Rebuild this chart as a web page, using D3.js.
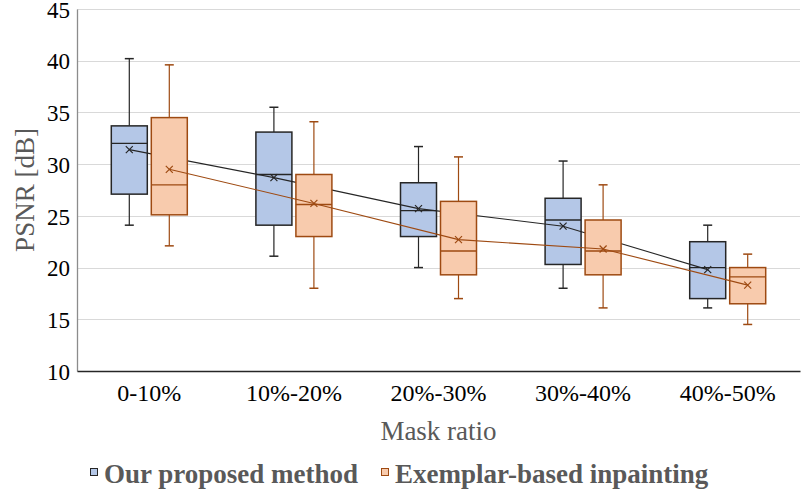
<!DOCTYPE html>
<html>
<head>
<meta charset="utf-8">
<script src="https://cdn.jsdelivr.net/npm/d3@7"></script>
<style>
    body { margin: 0; background: #fff; }
    svg { display: block; font-family: "Liberation Serif", "Times New Roman", serif; }
</style>
</head>
<body>
<div id="mainChart"></div>
<script>
// mask ratio groups
const categories = ['0-10%', '10%-20%', '20%-30%', '30%-40%', '40%-50%'];
const seriesNames = ['Our proposed method', 'Exemplar-based inpainting'];

// box stats: [whisker low, q1, median, q3, whisker high]
const proposedStats = [
    [24.1, 27.1, 32.0, 33.7, 40.2],
    [21.1, 24.1, 29.0, 33.1, 35.5],
    [20.0, 23.0, 25.5, 28.2, 31.7],
    [18.0, 20.3, 24.6, 26.7, 30.3],
    [16.1, 17.0, 20.0, 22.5, 24.1],
];
const proposedMeans = [31.4, 28.7, 25.7, 24.0, 19.8];

const exemplarStats = [
    [22.1, 25.1, 28.0, 34.5, 39.6],
    [18.0, 23.0, 26.1, 29.0, 34.1],
    [17.0, 19.3, 21.6, 26.4, 30.7],
    [16.1, 19.3, 21.6, 24.6, 28.0],
    [14.5, 16.5, 19.1, 20.0, 21.3],
];
const exemplarMeans = [29.5, 26.2, 22.7, 21.8, 18.3];

const yTicks = [10, 15, 20, 25, 30, 35, 40, 45];

const width = 801, height = 494;
const margin = { top: 9, right: 1, bottom: 123, left: 77 };

const series = [
    { name: seriesNames[0], stats: proposedStats, means: proposedMeans, fill: '#b4c7e7', stroke: '#262626' },
    { name: seriesNames[1], stats: exemplarStats, means: exemplarMeans, fill: '#f8cbad', stroke: '#9e4a12' },
];

const svg = d3.select('#mainChart').append('svg')
    .attr('width', width)
    .attr('height', height);

const x = d3.scaleBand()
    .domain(categories)
    .range([margin.left, width - margin.right]);

const xInner = d3.scaleBand()
    .domain(seriesNames)
    .range([-38, 38])
    .paddingInner(0.1);

const y = d3.scaleLinear()
    .domain([10, 45])
    .range([height - margin.bottom, margin.top]);

// gridlines
svg.append('g')
    .selectAll('line')
    .data(yTicks.filter(d => d > 10))
    .join('line')
    .attr('x1', margin.left)
    .attr('x2', width - margin.right)
    .attr('y1', d => Math.round(y(d)) + 0.5)
    .attr('y2', d => Math.round(y(d)) + 0.5)
    .attr('stroke', '#d9d9d9')
    .attr('stroke-width', 1.2);

// y axis
const yAxis = g => g
    .attr('transform', `translate(${margin.left},0)`)
    .call(d3.axisLeft(y).tickValues(yTicks).tickSize(0).tickPadding(7))
    .call(g => g.select('.domain').attr('stroke', '#8c8c8c').attr('stroke-width', 1.3))
    .call(g => g.selectAll('.tick text')
        .attr('font-size', 23)
        .attr('fill', '#000')
        .attr('font-family', '"Liberation Serif", serif')
        .attr('dy', '0.36em'));

svg.append('g').call(yAxis);

// boxes per series, each followed by its mean line
const bw = xInner.bandwidth();
series.forEach(s => {
    const g = svg.append('g');
    const cx = i => x(categories[i]) + x.bandwidth() / 2 + xInner(s.name) + bw / 2;

    s.stats.forEach((d, i) => {
        const [lo, q1, med, q3, hi] = d;
        const c = cx(i);
        // whiskers
        g.append('line')
            .attr('x1', c).attr('x2', c)
            .attr('y1', y(hi)).attr('y2', y(q3))
            .attr('stroke', s.stroke).attr('stroke-width', 1.2);
        g.append('line')
            .attr('x1', c).attr('x2', c)
            .attr('y1', y(q1)).attr('y2', y(lo))
            .attr('stroke', s.stroke).attr('stroke-width', 1.2);
        [lo, hi].forEach(v => {
            g.append('line')
                .attr('x1', c - 4.5).attr('x2', c + 4.5)
                .attr('y1', y(v)).attr('y2', y(v))
                .attr('stroke', s.stroke).attr('stroke-width', 1.5);
        });
        // box
        g.append('rect')
            .attr('x', c - bw / 2)
            .attr('y', y(q3))
            .attr('width', bw)
            .attr('height', y(q1) - y(q3))
            .attr('fill', s.fill)
            .attr('stroke', s.stroke)
            .attr('stroke-width', 1.5);
        g.append('line')
            .attr('x1', c - bw / 2).attr('x2', c + bw / 2)
            .attr('y1', y(med)).attr('y2', y(med))
            .attr('stroke', s.stroke).attr('stroke-width', 1.3);
    });

    // mean line
    const line = d3.line()
        .x((d, i) => cx(i))
        .y(d => y(d));

    g.append('path')
        .datum(s.means)
        .attr('fill', 'none')
        .attr('stroke', s.stroke)
        .attr('stroke-width', 1.1)
        .attr('d', line);

    // mean markers
    g.selectAll('.mean')
        .data(s.means)
        .join('path')
        .attr('class', 'mean')
        .attr('transform', (d, i) => `translate(${cx(i)},${y(d)})`)
        .attr('d', 'M-3.5,-3.5L3.5,3.5M-3.5,3.5L3.5,-3.5')
        .attr('stroke', s.stroke)
        .attr('stroke-width', 1.2);
});

// x axis
const xAxis = g => g
    .attr('transform', `translate(0,${height - margin.bottom})`)
    .call(d3.axisBottom(x).tickSize(0).tickPadding(13).tickSizeOuter(0))
    .call(g => g.select('.domain').attr('stroke', '#262626').attr('stroke-width', 1.5))
    .call(g => g.selectAll('.tick text')
        .attr('font-size', 24)
        .attr('fill', '#000')
        .attr('font-family', '"Liberation Serif", serif'));

svg.append('g').call(xAxis);

// axis titles
svg.append('text')
    .attr('x', (margin.left + width - margin.right) / 2)
    .attr('y', 440)
    .attr('text-anchor', 'middle')
    .attr('font-size', 27)
    .attr('fill', '#595959')
    .text('Mask ratio');

svg.append('text')
    .attr('transform', `translate(34,${(y(10) + y(45)) / 2}) rotate(-90)`)
    .attr('text-anchor', 'middle')
    .attr('font-size', 27)
    .attr('fill', '#595959')
    .text('PSNR [dB]');

// legend
const legendX = [90, 381];
const legend = svg.append('g');
series.forEach((s, i) => {
    legend.append('rect')
        .attr('x', legendX[i] + 0.5)
        .attr('y', 468.5)
        .attr('width', 7)
        .attr('height', 7)
        .attr('fill', s.fill)
        .attr('stroke', s.stroke)
        .attr('stroke-width', 1);
    legend.append('text')
        .attr('x', legendX[i] + 14)
        .attr('y', 483)
        .attr('font-size', 27)
        .attr('font-weight', 'bold')
        .attr('fill', '#595959')
        .text(s.name);
});
</script>
</body>
</html>
